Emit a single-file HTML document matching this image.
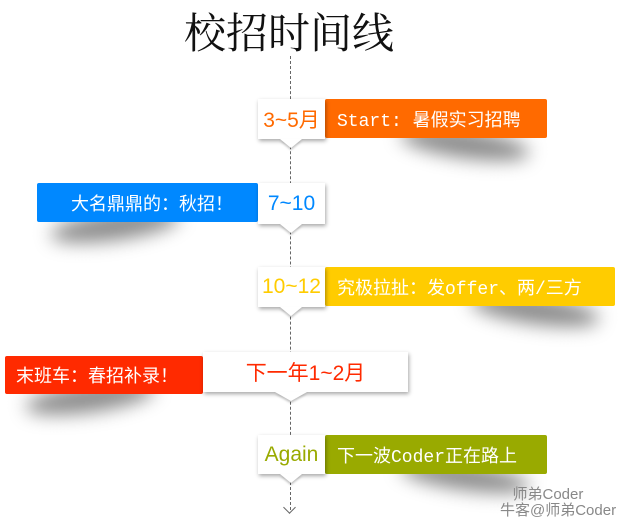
<!DOCTYPE html>
<html><head><meta charset="utf-8"><style>
body{margin:0;width:622px;height:522px;background:#fff;position:relative;overflow:hidden;font-family:"Liberation Sans","Noto Sans CJK SC",sans-serif}
.a{position:absolute}
.t{left:0;width:578px;top:4px;text-align:center;font-family:"Noto Serif CJK SC","Liberation Serif",serif;font-size:42px;color:#111;line-height:54px}
.line{left:290px;top:56px;height:454px;border-left:1px dashed #666}
.box{background:#fff;box-shadow:1px 2px 4px rgba(0,0,0,.35);display:flex;align-items:center;justify-content:center;font-size:21px;z-index:3}
.tri{width:0;height:0;border-left:11px solid transparent;border-right:11px solid transparent;border-top:9px solid #fff;z-index:4;filter:drop-shadow(0 2px 1px rgba(0,0,0,.25))}
.bar{color:#fff;display:flex;align-items:center;font-size:18px;font-family:"Liberation Mono","Noto Sans CJK SC",monospace;z-index:2;border-radius:2px}
.sh{background:rgba(0,0,0,.45);filter:blur(9px);border-radius:50%;z-index:1}
</style></head><body>
<div class="a t">校招时间线</div>
<div class="a line"></div>
<div class="a" style="left:285px;top:503px;width:8px;height:8px;border-right:1px solid #666;border-bottom:1px solid #666;transform:rotate(45deg)"></div>

<div class="a sh" style="left:400px;top:130px;width:130px;height:28px;transform:rotate(8deg)"></div>
<div class="a bar" style="left:325px;top:99px;width:222px;height:39px;background:#ff6a00;padding-left:12px;box-sizing:border-box">Start: 暑假实习招聘</div>
<div class="a box" style="left:258px;top:99px;width:67px;height:40px;color:#ff6a00">3~5月</div>
<div class="a tri" style="left:280px;top:139px"></div>

<div class="a sh" style="left:50px;top:212px;width:130px;height:28px;transform:rotate(-8deg)"></div>
<div class="a bar" style="left:37px;top:183px;width:221px;height:39px;background:#0088ff;padding-left:34px;box-sizing:border-box;font-family:'Noto Sans CJK SC',sans-serif">大名鼎鼎的：秋招！</div>
<div class="a box" style="left:258px;top:183px;width:67px;height:41px;color:#0088ff">7~10</div>
<div class="a tri" style="left:280px;top:224px"></div>

<div class="a sh" style="left:470px;top:296px;width:130px;height:28px;transform:rotate(8deg)"></div>
<div class="a bar" style="left:325px;top:267px;width:290px;height:39px;background:#ffcc00;padding-left:12px;box-sizing:border-box">究极拉扯：发offer、两/三方</div>
<div class="a box" style="left:258px;top:267px;width:67px;height:40px;color:#ffcc00">10~12</div>
<div class="a tri" style="left:280px;top:307px"></div>

<div class="a sh" style="left:25px;top:384px;width:130px;height:28px;transform:rotate(-8deg)"></div>
<div class="a bar" style="left:5px;top:356px;width:198px;height:38px;background:#ff2a00;padding-left:11px;box-sizing:border-box;font-family:'Noto Sans CJK SC',sans-serif">末班车：春招补录！</div>
<div class="a box" style="left:203px;top:352px;width:205px;height:40px;color:#ff2a00">下一年1~2月</div>
<div class="a tri" style="left:275px;top:392px;border-left-width:16px;border-right-width:16px"></div>

<div class="a sh" style="left:400px;top:464px;width:130px;height:26px;transform:rotate(8deg)"></div>
<div class="a bar" style="left:325px;top:435px;width:222px;height:39px;background:#99aa00;padding-left:12px;box-sizing:border-box">下一波Coder正在路上</div>
<div class="a box" style="left:258px;top:435px;width:67px;height:39px;color:#99aa00">Again</div>
<div class="a tri" style="left:280px;top:474px"></div>

<div class="a" style="left:500px;top:487px;font-size:15px;color:#888;z-index:5;line-height:16px">&nbsp;&nbsp;&nbsp;师弟Coder<br>牛客@师弟Coder</div>
</body></html>
